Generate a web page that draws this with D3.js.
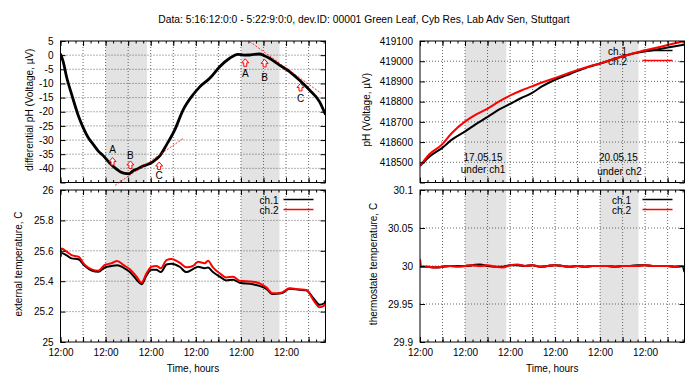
<!DOCTYPE html>
<html><head><meta charset="utf-8">
<script src="https://cdn.jsdelivr.net/npm/d3@7"></script>
<style>
body{margin:0;background:#fff}
svg{display:block}
text{font-family:"Liberation Sans",Arial,Helvetica,sans-serif;fill:#000}
</style>
</head><body>
<svg id="chart" width="691" height="374"></svg>
<script>
// ---------------- data ----------------
const titleText = "Data: 5:16:12:0:0 - 5:22:9:0:0, dev.ID: 00001 Green Leaf, Cyb Res, Lab Adv Sen, Stuttgart";
const hourSpan = [0, 141];                     // hours since 16.05 12:00
const majorHours = [0, 12, 24, 36, 48, 60, 72, 84, 96, 108, 120, 132];
const minorHours = [0, 4, 8, 12, 16, 20, 24, 28, 32, 36, 40, 44, 48, 52, 56, 60, 64, 68, 72, 76, 80, 84, 88, 92, 96, 100, 104, 108, 112, 116, 120, 124, 128, 132, 136, 140];
const labelHours = [0, 24, 48, 72, 96, 120];
const timeLabel = "12:00";
const shadeSpans = [[24, 46], [96, 116.5]];

// differential pH
const diffHours = [0, 1.5, 3.3, 5.9, 9.5, 12, 14.8, 17.5, 20, 22.7, 26.3, 29.8, 32, 34.2, 36.5, 38.7, 41, 44, 47, 49.3, 52.8, 56.4, 60.8, 65.2, 70.5, 74.1, 79.4, 84.7, 90, 94.4, 97.5, 100.6, 103, 105.9, 108.5, 111.2, 116.5, 121.9, 127.1, 132.5, 137.8, 141];
const diffValues = [0.5, -2.5, -7.9, -13.8, -21.4, -25.5, -29.2, -31.6, -33.8, -35.5, -38.2, -40.3, -41.3, -41.8, -41.9, -40.8, -40.2, -39.2, -38.5, -37.6, -35.6, -31.7, -26.4, -19.4, -14.0, -11.2, -8.2, -4.1, -1.1, 0.3, 0.0, 0.05, 0.3, 0.4, -0.2, -1.1, -3.5, -5.8, -8.8, -12.3, -16.4, -21];
const diffTicks = [5, 0, -5, -10, -15, -20, -25, -30, -35, -40, -45];
const diffTickLabels = ["5", "0", "-5", "-10", "-15", "-20", "-25", "-30", "-35", "-40", ""];
const markNames = ["A", "B", "C", "A", "B", "C"];
const markHours = [27.7, 37.2, 52.5, 98.3, 108.6, 127.7];
const markValues = [-37.6, -38.8, -39.2, -2.7, -2.9, -11.4];
const markLabelValues = [-33.2, -35.3, -42.6, -6.4, -8.0, -15.2];
const tangentLines = [[[29, -46], [65.2, -29.5]], [[100.7, 4.8], [138.7, -13.5]]];

// absolute pH voltage
const phHours = [0, 5, 11.5, 17, 23.9, 30, 36.3, 42, 48.7, 54, 59.3, 65, 71.7, 78, 84.1, 90, 96.5, 103, 110.6, 117, 124.8, 132, 139.8, 141];
const phCh1 = [418482, 418528, 418569, 418612, 418652, 418690, 418726, 418760, 418792, 418818, 418841, 418875, 418907, 418930, 418952, 418972, 418990, 419010, 419031, 419044, 419055, 419068, 419080, 419082];
const phCh2 = [418482, 418540, 418586, 418645, 418701, 418737, 418767, 418800, 418833, 418855, 418874, 418895, 418916, 418937, 418957, 418974, 418990, 419010, 419031, 419047, 419064, 419080, 419097, 419100];
const phTicks = [419100, 419000, 418900, 418800, 418700, 418600, 418500, 418400];
const phTickLabels = ["419100", "419000", "418900", "418800", "418700", "418600", "418500", ""];
const sampleDates = ["17.05.15", "20.05.15"];
const sampleNotes = ["under ch1", "under ch2"];
const sampleHours = [33.6, 105.8];

// external temperature
const extHours = [0, 0.5, 3.3, 5.9, 9.5, 13, 16.6, 20.1, 23.6, 27.2, 30.2, 33.4, 36.9, 40.5, 43.1, 45.8, 48.4, 51, 53.4, 56.4, 59, 63.4, 67, 70.5, 73.2, 76.7, 78.5, 81.1, 84.7, 88.2, 91.8, 95.3, 102.4, 109.5, 113, 117.4, 121.9, 127.2, 130.7, 135.1, 137.8, 140.4, 141];
const extCh1 = [25.56, 25.585, 25.57, 25.55, 25.544, 25.50, 25.47, 25.462, 25.49, 25.50, 25.505, 25.49, 25.46, 25.41, 25.38, 25.44, 25.475, 25.475, 25.46, 25.51, 25.515, 25.495, 25.46, 25.48, 25.495, 25.485, 25.49, 25.46, 25.43, 25.405, 25.41, 25.39, 25.38, 25.35, 25.315, 25.32, 25.35, 25.343, 25.34, 25.28, 25.245, 25.255, 25.27];
const extCh2 = [25.575, 25.615, 25.594, 25.572, 25.561, 25.507, 25.478, 25.469, 25.507, 25.518, 25.533, 25.507, 25.478, 25.43, 25.39, 25.452, 25.495, 25.5, 25.485, 25.539, 25.546, 25.522, 25.491, 25.5, 25.528, 25.518, 25.535, 25.491, 25.452, 25.425, 25.43, 25.403, 25.397, 25.36, 25.32, 25.324, 25.353, 25.346, 25.342, 25.265, 25.228, 25.24, 25.25];
const extTicks = [25, 25.2, 25.4, 25.6, 25.8, 26];
const extTickLabels = ["25", "25.2", "25.4", "25.6", "25.8", "26"];

// thermostate temperature
const thermoHours = [0, 0.3, 4, 8, 12, 16, 20, 24, 28, 32, 36, 40, 44, 48, 52, 56, 60, 64, 68, 72, 76, 80, 84, 88, 92, 96, 100, 104, 108, 112, 116, 120, 124, 128, 132, 136, 140, 141];
const thermoCh1 = [30.006, 29.999, 29.999, 29.998, 29.999, 30.000, 30.000, 30.000, 30.001, 30.002, 30.000, 29.999, 29.999, 30.001, 30.001, 30.000, 30.001, 29.999, 30.000, 30.001, 30.000, 29.999, 30.000, 29.999, 30.000, 30.000, 30.000, 29.999, 30.000, 30.000, 30.001, 30.001, 30.000, 30.000, 30.000, 29.999, 30.000, 29.992];
const thermoCh2 = [30.009, 29.999, 29.999, 29.998, 29.999, 30.000, 29.999, 30.000, 30.001, 30.000, 30.001, 29.999, 29.998, 30.001, 30.002, 30.000, 30.001, 29.999, 30.000, 30.001, 30.000, 29.999, 30.000, 29.999, 30.000, 30.000, 30.000, 29.999, 30.000, 30.000, 30.000, 30.001, 30.000, 30.000, 30.000, 29.999, 30.000, 29.998];
const thermoTicks = [29.9, 29.95, 30, 30.05, 30.1];
const thermoTickLabels = ["29.9", "29.95", "30", "30.05", "30.1"];

const channelNames = ["ch.1", "ch.2"];
const channelColors = ["#000000", "#ff0000"];

// ---------------- drawing ----------------
const svg = d3.select("#chart");
const FS = 10;

svg.append("text").attr("x", 364).attr("y", 23).attr("text-anchor", "middle")
  .style("font-size", "10.3px").text(titleText);

function panel(cfg) {
  const x = d3.scaleLinear(hourSpan, [cfg.x0, cfg.x1]);
  const y = d3.scaleLinear(cfg.yDomain, [cfg.y1, cfg.y0]);
  const g = svg.append("g");
  const clipId = "clip" + cfg.id;
  g.append("clipPath").attr("id", clipId).append("rect")
    .attr("x", cfg.x0).attr("y", cfg.y0).attr("width", cfg.x1 - cfg.x0).attr("height", cfg.y1 - cfg.y0);

  // shaded sampling periods
  g.selectAll("rect.shade").data(shadeSpans).join("rect").attr("class", "shade")
    .attr("x", d => x(d[0])).attr("width", d => x(d[1]) - x(d[0]))
    .attr("y", cfg.y0).attr("height", cfg.y1 - cfg.y0).attr("fill", "#e3e3e3");

  // dotted grid
  const grid = g.append("g").attr("stroke", "#555").attr("stroke-width", 0.9).attr("stroke-dasharray", "1,2");
  grid.selectAll("line.v").data(majorHours.filter(h => h > 0)).join("line")
    .attr("x1", d => x(d)).attr("x2", d => x(d)).attr("y1", cfg.y0).attr("y2", cfg.y1);
  grid.selectAll("line.h").data(cfg.yTicks.filter(v => v > cfg.yDomain[0] && v < cfg.yDomain[1])).join("line")
    .attr("x1", cfg.x0).attr("x2", cfg.x1).attr("y1", d => y(d)).attr("y2", d => y(d));

  const legend = () => {
    if (!cfg.legend) return;
    const lg = g.append("g");
    channelNames.forEach((n, i) => {
      const yy = cfg.y0 + 10 + i * 10;
      lg.append("text").attr("x", cfg.x1 - cfg.legendTextGap).attr("y", yy).attr("dy", "0.35em")
        .attr("text-anchor", "end").style("font-size", FS + "px").text(n);
      lg.append("line").attr("x1", cfg.x1 - 42).attr("x2", cfg.x1 - 12).attr("y1", yy - 0.5).attr("y2", yy - 0.5)
        .attr("stroke", channelColors[i]).attr("stroke-width", 1.5);
    });
  };
  if (cfg.legendUnder) legend();

  // series
  const plot = g.append("g").attr("clip-path", `url(#${clipId})`);
  cfg.series.forEach(s => {
    const line = d3.line().x((d, i) => x(s.hours[i])).y(d => y(d)).curve(d3.curveMonotoneX);
    plot.append("path").datum(s.values).attr("d", line).attr("fill", "none")
      .attr("stroke", s.color).attr("stroke-width", s.width).attr("stroke-linejoin", "round");
  });

  if (!cfg.legendUnder) legend();

  // frame
  g.append("rect").attr("x", cfg.x0).attr("y", cfg.y0).attr("width", cfg.x1 - cfg.x0).attr("height", cfg.y1 - cfg.y0)
    .attr("fill", "none").attr("stroke", "#000").attr("stroke-width", 1);

  // tick marks (inward, mirrored) and labels
  const fmtX = h => (cfg.xLabels && labelHours.includes(h)) ? timeLabel : "";
  const addAxis = (axis, tx, ty) => {
    const a = g.append("g").attr("transform", `translate(${tx},${ty})`).call(axis);
    a.select(".domain").remove();
    a.selectAll("line").attr("stroke", "#000");
    a.selectAll("text").style("font-size", FS + "px").style("font-family", null);
    return a;
  };
  addAxis(d3.axisBottom(x).tickValues(minorHours).tickSize(-2.5).tickFormat(""), 0, cfg.y1);
  addAxis(d3.axisBottom(x).tickValues(majorHours).tickSize(-5).tickPadding(7).tickFormat(fmtX), 0, cfg.y1);
  addAxis(d3.axisTop(x).tickValues(minorHours).tickSize(-2.5).tickFormat(""), 0, cfg.y0);
  addAxis(d3.axisTop(x).tickValues(majorHours).tickSize(-5).tickFormat(""), 0, cfg.y0);
  addAxis(d3.axisLeft(y).tickValues(cfg.yTicks).tickSize(-5).tickPadding(7)
    .tickFormat((d, i) => cfg.yTickLabels[i]), cfg.x0, 0);
  addAxis(d3.axisRight(y).tickValues(cfg.yTicks).tickSize(-5).tickFormat(""), cfg.x1, 0);

  // axis titles
  g.append("text").attr("transform", `translate(${cfg.ylabelX},${(cfg.y0 + cfg.y1) / 2 - 2}) rotate(-90)`)
    .attr("text-anchor", "middle").attr("dy", "0.35em").style("font-size", FS + "px").text(cfg.ylabel);
  if (cfg.xlabel) {
    g.append("text").attr("x", (cfg.x0 + cfg.x1) / 2).attr("y", 368).attr("dy", "0.35em")
      .attr("text-anchor", "middle").style("font-size", FS + "px").text(cfg.xlabel);
  }
  return { g, x, y };
}

const LX = [60.5, 325.5], RX = [420, 684.5];
const TOP = [41, 182.5], BOT = [190, 342];

// differential pH
const p1 = panel({
  id: 1, x0: LX[0], x1: LX[1], y0: TOP[0], y1: TOP[1], yDomain: [-45, 5],
  yTicks: diffTicks, yTickLabels: diffTickLabels, ylabel: "differential pH (Voltage, µV)", ylabelX: 29,
  series: [{ hours: diffHours, values: diffValues, color: "#000", width: 2.8 }]
});
// tangents
tangentLines.forEach(t => {
  p1.g.append("line").attr("x1", p1.x(t[0][0])).attr("y1", p1.y(t[0][1]))
    .attr("x2", p1.x(t[1][0])).attr("y2", p1.y(t[1][1]))
    .attr("stroke", "#ff0000").attr("stroke-width", 0.8).attr("stroke-dasharray", "2,1.5");
});
// sampling markers
const arrowPath = "M0,-4 L3.5,0 L1.5,0 L1.5,3.5 L-1.5,3.5 L-1.5,0 L-3.5,0 Z";
markHours.forEach((h, i) => {
  p1.g.append("path").attr("d", arrowPath)
    .attr("transform", `translate(${p1.x(h)},${p1.y(markValues[i])})`)
    .attr("fill", "#fff").attr("stroke", "#ff0000").attr("stroke-width", 1);
  p1.g.append("text").attr("x", p1.x(h)).attr("y", p1.y(markLabelValues[i])).attr("dy", "0.35em")
    .attr("text-anchor", "middle").style("font-size", FS + "px").text(markNames[i]);
});

// absolute pH
const p2 = panel({
  id: 2, x0: RX[0], x1: RX[1], y0: TOP[0], y1: TOP[1], yDomain: [418400, 419100],
  yTicks: phTicks, yTickLabels: phTickLabels, ylabel: "pH (Voltage, µV)", ylabelX: 366.5,
  legend: true, legendUnder: true, legendTextGap: 57.5,
  series: [{ hours: phHours, values: phCh1, color: channelColors[0], width: 2 },
           { hours: phHours, values: phCh2, color: channelColors[1], width: 2 }]
});
sampleHours.forEach((h, i) => {
  p2.g.append("text").attr("x", p2.x(h)).attr("y", 157).attr("dy", "0.35em")
    .attr("text-anchor", "middle").style("font-size", FS + "px").text(sampleDates[i]);
  p2.g.append("text").attr("x", p2.x(h) + (i ? 1 : 0)).attr("y", 169 + i * 2).attr("dy", "0.35em")
    .attr("text-anchor", "middle").style("font-size", FS + "px").text(sampleNotes[i]);
});

// external temperature
panel({
  id: 3, x0: LX[0], x1: LX[1], y0: BOT[0], y1: BOT[1], yDomain: [25, 26],
  yTicks: extTicks, yTickLabels: extTickLabels, ylabel: "external temperature, C", ylabelX: 18,
  xLabels: true, xlabel: "Time, hours", legend: true, legendTextGap: 47,
  series: [{ hours: extHours, values: extCh1, color: channelColors[0], width: 2 },
           { hours: extHours, values: extCh2, color: channelColors[1], width: 2 }]
});

// thermostate temperature
panel({
  id: 4, x0: RX[0], x1: RX[1], y0: BOT[0], y1: BOT[1], yDomain: [29.9, 30.1],
  yTicks: thermoTicks, yTickLabels: thermoTickLabels, ylabel: "thermostate temperature, C", ylabelX: 373,
  xLabels: true, xlabel: "Time, hours", legend: true, legendTextGap: 53.5,
  series: [{ hours: thermoHours, values: thermoCh1, color: channelColors[0], width: 2.2 },
           { hours: thermoHours, values: thermoCh2, color: channelColors[1], width: 2.2 }]
});
</script>
</body></html>
